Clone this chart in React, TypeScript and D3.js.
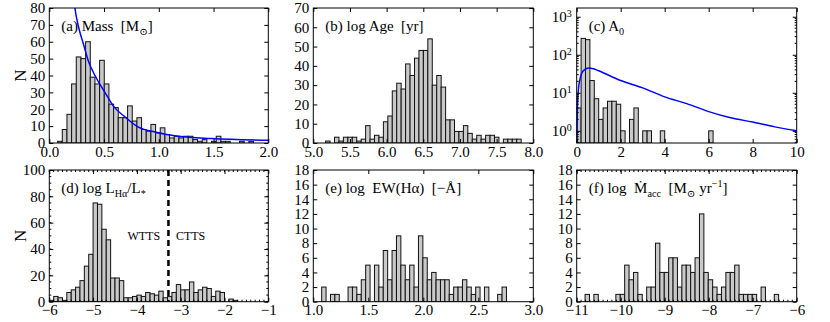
import React, { useRef, useEffect } from 'react'
import * as d3 from 'd3'

const serif = '"Liberation Serif", "DejaVu Serif", serif'

// (a) Mass [Msun] histogram + fitted curve
const massStart = 0.076
const massBin = 0.0426
const massCounts = [1, 8, 17, 35, 51, 50, 60, 39, 35, 49, 35, 23, 21, 15, 15, 22, 13, 15, 8, 7, 11, 6, 9, 5, 3, 4, 3, 4, 4, 2, 1, 2, 0, 1, 4, 1, 1, 0, 0, 1, 0, 1]
const massFitX = [0.215, 0.234, 0.27, 0.31, 0.36, 0.417, 0.508, 0.584, 0.69, 0.81, 0.965, 1.18, 1.48, 2.0]
const massFitY = [92, 80, 68, 59, 48, 40, 30, 22, 15.5, 9.5, 6.5, 4, 2.6, 1.6]

// (b) log Age [yr]
const ageStart = 5.168
const ageBin = 0.0606
const ageCounts = [1, 0, 3, 1, 3, 3, 3, 1, 2, 9, 2, 4, 3, 11, 14, 27, 31, 28, 41, 35, 44, 48, 48, 54, 30, 35, 29, 12, 12, 6, 6, 9, 5, 2, 4, 2, 4, 4, 3, 0, 2, 2, 2, 2]

// (c) A0 (log y) + fitted curve
const avStart = 0
const avBin = 0.2
const avCounts = [4, 270, 250, 21, 7, 2, 4, 6, 6, 5, 1, 0, 2, 4, 0, 1, 1, 0, 0, 1, 0, 0, 0, 0, 0, 0, 0, 0, 0, 0, 1]
const avFitX = [0.005, 0.03, 0.076, 0.15, 0.3, 0.53, 0.76, 1.0, 2, 3, 4, 5, 6, 7, 8, 9, 10]
const avFitY = [0.5, 3.5, 11.8, 23, 38, 45, 43, 38, 21, 13.5, 7.8, 5.2, 3.2, 2.2, 1.7, 1.27, 1.0]

// (d) log L_Ha / L_*
const haStart = -6.0
const haBin = 0.1
const haCounts = [1, 4, 3, 1, 7, 9, 11, 16, 27, 36, 75, 74, 55, 47, 18, 18, 16, 3, 3, 4, 5, 4, 7, 6, 5, 8, 3, 4, 7, 13, 9, 9, 15, 7, 9, 11, 10, 4, 8, 7, 0, 2, 1]
const haDivide = -3.28

// (e) log EW(Ha)
const ewStart = 1.076
const ewBin = 0.04
const ewCounts = [2, 0, 1, 1, 0, 0, 2, 2, 1, 3, 5, 0, 5, 2, 7, 3, 7, 9, 5, 3, 5, 2, 9, 6, 3, 4, 3, 3, 3, 1, 2, 2, 3, 2, 1, 2, 0, 2, 0, 0, 1, 2]

// (f) log Mdot_acc
const mdotStart = -10.81
const mdotBin = 0.1
const mdotCounts = [1, 0, 1, 0, 0, 0, 0, 1, 1, 5, 3, 4, 1, 0, 2, 2, 8, 4, 4, 6, 6, 2, 5, 5, 4, 6, 12, 4, 3, 2, 1, 2, 4, 4, 5, 1, 1, 1, 1, 0, 2, 0, 0, 1]

// tick labels
const massTicks = [0, 0.5, 1.0, 1.5, 2.0]
const massYTicks = [0, 10, 20, 30, 40, 50, 60, 70, 80]
const ageTicks = [5.0, 5.5, 6.0, 6.5, 7.0, 7.5, 8.0]
const ageYTicks = [0, 10, 20, 30, 40, 50, 60, 70]
const avTicks = [0, 2, 4, 6, 8, 10]
const avYTicks = [1, 10, 100, 1000]
const haTicks = [-6, -5, -4, -3, -2, -1]
const haYTicks = [0, 20, 40, 60, 80, 100]
const ewTicks = [1.0, 1.5, 2.0, 2.5, 3.0]
const ewYTicks = [0, 2, 4, 6, 8, 10, 12, 14, 16, 18]
const mdotTicks = [-11, -10, -9, -8, -7, -6]
const mdotYTicks = [0, 2, 4, 6, 8, 10, 12, 14, 16, 18]

type Part = [string, string]

type Panel = {
  id: string
  left: number; top: number; width: number; height: number
  xDomain: [number, number]; yDomain: [number, number]; log?: boolean
  start: number; bin: number; counts: number[]
  xTicks: number[]; yTicks: number[]
  xMinor?: number[]; yMinor?: number[]
  xFmt: (d: number) => string
  yFmt?: (d: number) => string
  fitX?: number[]; fitY?: number[]
  title: Part[]
}

const f1 = d3.format('.1f')
const fd = d3.format('d')

const colL = [49.3, 313.3, 576.7]
const colW = 220
const rowT = [8, 170]
const rowH = [135, 131.7]

const panels: Panel[] = [
  { id: 'a', left: colL[0], top: rowT[0], width: colW - 1, height: rowH[0], xDomain: [0, 2], yDomain: [0, 80],
    start: massStart, bin: massBin, counts: massCounts, xTicks: massTicks, yTicks: massYTicks, xFmt: f1, yFmt: fd,
    fitX: massFitX, fitY: massFitY, title: [['(a) Mass  [M', ''], ['⊙', 'sub'], [']', '']] },
  { id: 'b', left: colL[1], top: rowT[0], width: colW, height: rowH[0], xDomain: [5, 8], yDomain: [0, 70],
    start: ageStart, bin: ageBin, counts: ageCounts, xTicks: ageTicks, yTicks: ageYTicks, xFmt: f1, yFmt: fd,
    title: [['(b) log Age  [yr]', '']] },
  { id: 'c', left: colL[2], top: rowT[0], width: colW, height: rowH[0], xDomain: [0, 10], yDomain: [Math.pow(10, -0.32), Math.pow(10, 3.23)], log: true,
    start: avStart, bin: avBin, counts: avCounts, xTicks: avTicks, yTicks: avYTicks, xFmt: fd,
    fitX: avFitX, fitY: avFitY, title: [['(c) A', ''], ['0', 'sub']] },
  { id: 'd', left: colL[0], top: rowT[1], width: colW - 1, height: rowH[1], xDomain: [-6, -1], yDomain: [0, 100],
    start: haStart, bin: haBin, counts: haCounts, xTicks: haTicks, yTicks: haYTicks, xFmt: fd, yFmt: fd,
    xMinor: d3.range(-6, -1, 0.1), yMinor: d3.range(0, 100, 5),
    title: [['(d) log L', ''], ['Hα', 'sub'], ['/L', ''], ['*', 'sub']] },
  { id: 'e', left: colL[1], top: rowT[1], width: colW, height: rowH[1], xDomain: [1, 3], yDomain: [0, 18],
    start: ewStart, bin: ewBin, counts: ewCounts, xTicks: ewTicks, yTicks: ewYTicks, xFmt: f1, yFmt: fd,
    title: [['(e) log  EW(Hα)  [−Å]', '']] },
  { id: 'f', left: colL[2], top: rowT[1], width: colW, height: rowH[1], xDomain: [-11, -6], yDomain: [0, 18],
    start: mdotStart, bin: mdotBin, counts: mdotCounts, xTicks: mdotTicks, yTicks: mdotYTicks, xFmt: fd, yFmt: fd,
    xMinor: d3.range(-11, -6, 0.1),
    title: [['(f) log  Ṁ', ''], ['acc', 'sub'], ['  [M', ''], ['⊙', 'sub'], [' yr', ''], ['−1', 'sup'], [']', '']] },
]

function richText(sel: any, x: number, y: number, parts: Part[], size: number) {
  const t = sel.append('text').attr('x', x).attr('y', y)
    .attr('font-family', serif).attr('font-size', size).style('white-space', 'pre')
  let shift = 0
  parts.forEach(([s, kind]) => {
    const target = kind === 'sub' ? 4 : kind === 'sup' ? -6 : 0
    t.append('tspan')
      .attr('dy', target - shift)
      .attr('font-size', kind ? size * 0.68 : size)
      .text(s)
    shift = target
  })
  return t
}

function drawPanel(svg: any, p: Panel) {
  const x = d3.scaleLinear().domain(p.xDomain).range([p.left, p.left + p.width])
  const y: any = (p.log ? d3.scaleLog() : d3.scaleLinear()).domain(p.yDomain).range([p.top + p.height, p.top])
  const base = p.yDomain[0]
  const g = svg.append('g')

  g.append('clipPath').attr('id', 'clip-' + p.id).append('rect')
    .attr('x', p.left).attr('y', p.top).attr('width', p.width).attr('height', p.height)

  const bars = p.counts.map((c, i) => ({ c, i })).filter(d => d.c > 0)
  g.append('g').attr('clip-path', `url(#clip-${p.id})`)
    .selectAll('rect').data(bars).join('rect')
    .attr('x', (d: any) => x(p.start + d.i * p.bin))
    .attr('width', (d: any) => x(p.start + (d.i + 1) * p.bin) - x(p.start + d.i * p.bin))
    .attr('y', (d: any) => y(d.c))
    .attr('height', (d: any) => y(base) - y(d.c))
    .attr('fill', '#c9c9c9')
    .attr('stroke', '#111')
    .attr('stroke-width', 1)

  if (p.fitX && p.fitY) {
    const pts = p.fitX.map((v, i) => [v, p.fitY![i]] as [number, number])
    const line = d3.line<[number, number]>().x(d => x(d[0])).y(d => y(d[1])).curveMonotoneX ? null : null
    const path = d3.line<[number, number]>().x(d => x(d[0])).y(d => y(d[1])).curve(d3.curveMonotoneX)
    g.append('path').attr('clip-path', `url(#clip-${p.id})`)
      .attr('d', path(pts)).attr('fill', 'none').attr('stroke', '#0000ff').attr('stroke-width', 1.5)
  }

  const styleAxis = (a: any) => {
    a.select('.domain').remove()
    a.selectAll('line').attr('stroke', '#000')
    a.selectAll('text').attr('font-family', serif).attr('font-size', 15).attr('fill', '#000')
  }

  g.append('g').attr('transform', `translate(0,${p.top + p.height})`)
    .call(d3.axisBottom(x).tickValues(p.xTicks).tickFormat(p.xFmt as any).tickSizeInner(-4).tickSizeOuter(0).tickPadding(3))
    .call(styleAxis)
  g.append('g').attr('transform', `translate(0,${p.top})`)
    .call(d3.axisTop(x).tickValues(p.xTicks).tickFormat(() => '').tickSizeInner(-4).tickSizeOuter(0))
    .call(styleAxis)
  const left = g.append('g').attr('transform', `translate(${p.left},0)`)
    .call(d3.axisLeft(y).tickValues(p.yTicks).tickFormat((p.yFmt || (() => '')) as any).tickSizeInner(-4).tickSizeOuter(0).tickPadding(p.log ? 5 : 4))
    .call(styleAxis)
  g.append('g').attr('transform', `translate(${p.left + p.width},0)`)
    .call(d3.axisRight(y).tickValues(p.yTicks).tickFormat(() => '').tickSizeInner(-4).tickSizeOuter(0))
    .call(styleAxis)

  if (p.log) {
    left.selectAll('.tick text').each(function (this: any, d: any) {
      const t = d3.select(this)
      t.text(null)
      t.append('tspan').text('10')
      t.append('tspan').attr('dy', '-0.55em').attr('font-size', 10).text(String(Math.round(Math.log10(d))))
    })
    // log minor ticks
    const minor: number[] = []
    for (let k = -1; k <= 3; k++) for (let m = 2; m <= 9; m++) {
      const v = m * Math.pow(10, k)
      if (v > p.yDomain[0] && v < p.yDomain[1]) minor.push(v)
    }
    g.append('g').selectAll('line').data(minor).join('line')
      .attr('x1', p.left).attr('x2', p.left + 2).attr('y1', (d: number) => y(d)).attr('y2', (d: number) => y(d)).attr('stroke', '#000')
    g.append('g').selectAll('line').data(minor).join('line')
      .attr('x1', p.left + p.width).attr('x2', p.left + p.width - 2).attr('y1', (d: number) => y(d)).attr('y2', (d: number) => y(d)).attr('stroke', '#000')
  }

  if (p.xMinor) {
    const xm = p.xMinor
    g.append('g').selectAll('line').data(xm).join('line')
      .attr('x1', (d: number) => x(d)).attr('x2', (d: number) => x(d))
      .attr('y1', p.top + p.height).attr('y2', p.top + p.height - 2).attr('stroke', '#000')
    g.append('g').selectAll('line').data(xm).join('line')
      .attr('x1', (d: number) => x(d)).attr('x2', (d: number) => x(d))
      .attr('y1', p.top).attr('y2', p.top + 2).attr('stroke', '#000')
  }
  if (p.yMinor) {
    const ym = p.yMinor
    g.append('g').selectAll('line').data(ym).join('line')
      .attr('x1', p.left).attr('x2', p.left + 2).attr('y1', (d: number) => y(d)).attr('y2', (d: number) => y(d)).attr('stroke', '#000')
    g.append('g').selectAll('line').data(ym).join('line')
      .attr('x1', p.left + p.width).attr('x2', p.left + p.width - 2).attr('y1', (d: number) => y(d)).attr('y2', (d: number) => y(d)).attr('stroke', '#000')
  }

  g.append('rect').attr('x', p.left).attr('y', p.top).attr('width', p.width).attr('height', p.height)
    .attr('fill', 'none').attr('stroke', '#000').attr('stroke-width', 1)

  richText(g, p.left + 12, p.top + 23, p.title, 15)

  if (p.id === 'd') {
    g.append('line').attr('x1', x(haDivide)).attr('x2', x(haDivide)).attr('y1', p.top).attr('y2', p.top + p.height)
      .attr('stroke', '#000').attr('stroke-width', 2.5).attr('stroke-dasharray', '6,4')
    g.append('text').attr('x', x(-3.47)).attr('y', y(47)).attr('text-anchor', 'end')
      .attr('font-family', serif).attr('font-size', 12).text('WTTS')
    g.append('text').attr('x', x(-3.11)).attr('y', y(47))
      .attr('font-family', serif).attr('font-size', 12).text('CTTS')
  }
  return { x, y }
}

export default function App() {
  const ref = useRef<SVGSVGElement>(null)

  useEffect(() => {
    const svg = d3.select(ref.current)
    svg.selectAll('*').remove()
    panels.forEach(p => drawPanel(svg, p))

    svg.append('text').attr('transform', `translate(26,${rowT[0] + rowH[0] / 2}) rotate(-90)`)
      .attr('text-anchor', 'middle').attr('font-family', serif).attr('font-size', 17).text('N')
    svg.append('text').attr('transform', `translate(26,${rowT[1] + rowH[1] / 2}) rotate(-90)`)
      .attr('text-anchor', 'middle').attr('font-family', serif).attr('font-size', 17).text('N')
  }, [])

  return (
    <svg ref={ref} width={830} height={322}
      style={{ position: 'absolute', left: 0, top: 0, background: '#fff' }} />
  )
}
